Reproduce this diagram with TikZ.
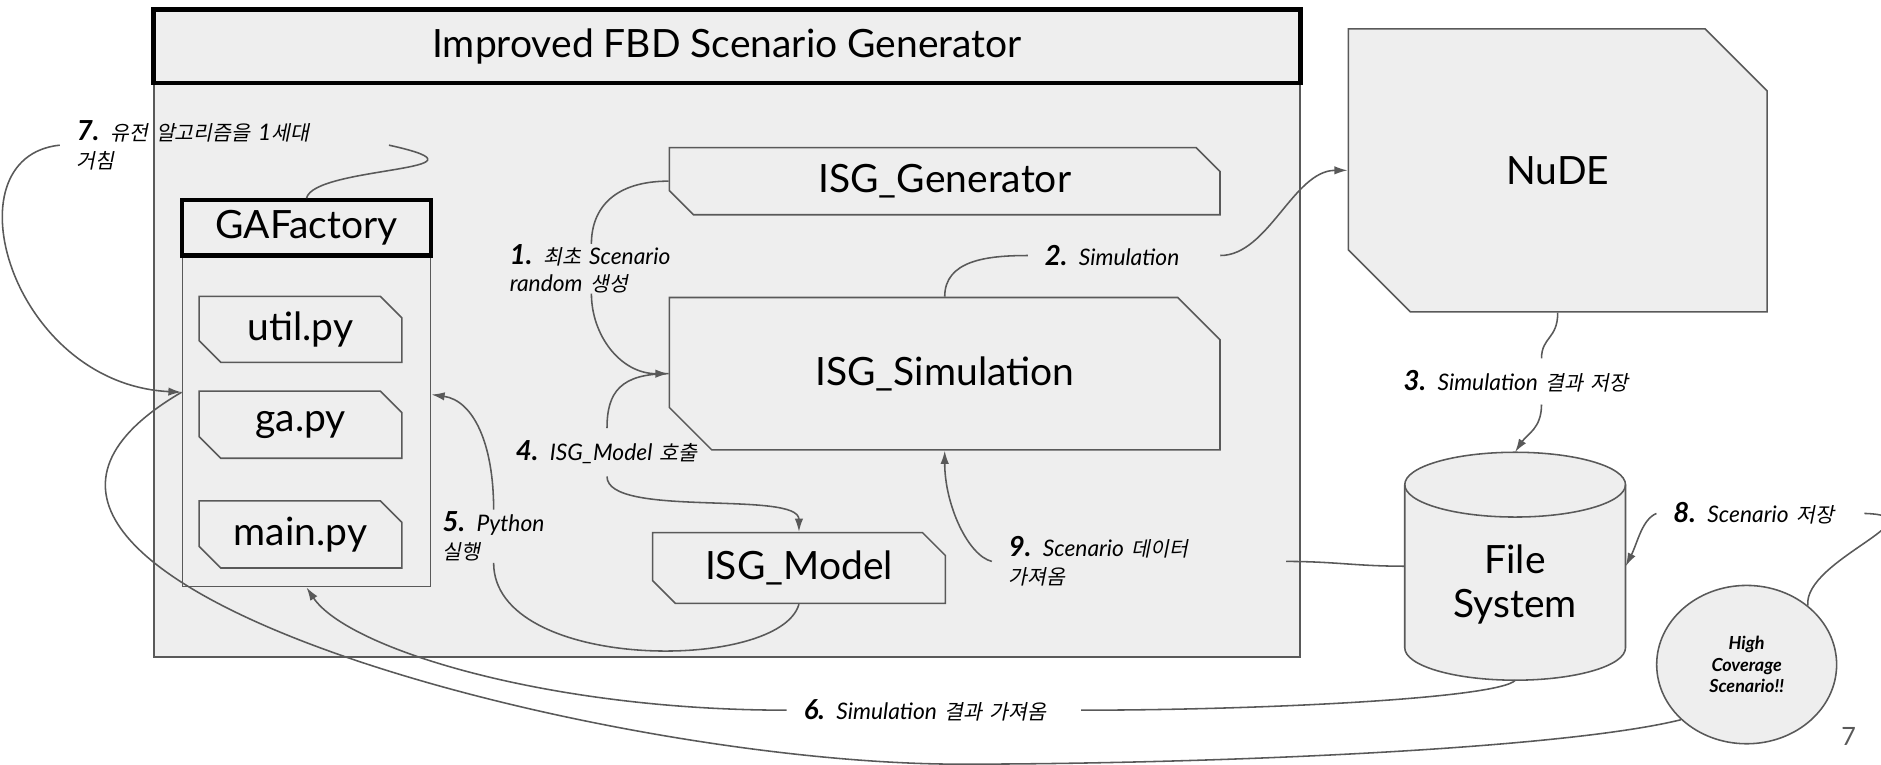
\documentclass[tikz,border=0pt]{standalone}
\usepackage{fontspec}
\usepackage{tikz}
\usetikzlibrary{arrows.meta, shapes.geometric, shapes.misc}
\setmainfont{Lato}
\newfontfamily\kr[Scale=0.9,FakeSlant=0.2]{Noto Sans CJK KR}
\definecolor{panelgray}{HTML}{EEEEEE}
\definecolor{edgegray}{HTML}{595959}
\newcommand{\stepno}[1]{{\fontsize{23}{23}\selectfont\bfseries\itshape #1.}}

\begin{document}
\begin{tikzpicture}[x=1pt, y=-1pt]
  \tikzstyle{blk}=[draw=edgegray, fill=panelgray, line width=1.3pt,
    inner sep=0pt, font=\fontsize{32.5}{37}\selectfont]
  \tikzstyle{snip}=[blk, chamfered rectangle,
    chamfered rectangle corners={north east, south west}]
  \tikzstyle{hdr}=[blk, draw=black, line width=3.5pt]
  \tikzstyle{lab}=[inner xsep=14pt, inner ysep=0pt, align=left,
    font=\fontsize{19}{23}\selectfont\itshape]
  \tikzstyle{wire}=[draw=edgegray, line width=1.3pt]
  \tikzstyle{arr}=[wire, -{Latex[length=11pt, width=7pt]}]

  \useasboundingbox (0,0) rectangle (1568,637);

  % generator panel
  \node[blk, line width=1.6pt, minimum width=956pt, minimum height=540pt] (panel) at (606,278) {};
  \node[hdr, minimum width=956pt, minimum height=61pt] (title) at (606,38.5) {Improved FBD Scenario Generator};

  \node[blk, minimum width=207pt, minimum height=276pt] (gabody) at (255.5,351) {};
  \node[hdr, minimum width=207pt, minimum height=46pt] (gahead) at (255.5,190) {GAFactory};
  \node[snip, chamfered rectangle xsep=9pt, chamfered rectangle ysep=9pt,
    minimum width=169pt, minimum height=55pt] (util) at (250.5,274.5) {util.py};
  \node[snip, chamfered rectangle xsep=9pt, chamfered rectangle ysep=9pt,
    minimum width=169pt, minimum height=56pt] (gapy) at (250.5,354) {ga.py};
  \node[snip, chamfered rectangle xsep=9pt, chamfered rectangle ysep=9pt,
    minimum width=169pt, minimum height=56pt] (mainpy) at (250.5,445.5) {main.py};

  \node[snip, chamfered rectangle xsep=10pt, chamfered rectangle ysep=10pt,
    minimum width=459pt, minimum height=56pt] (gen) at (787.5,151) {ISG\_Generator};
  \node[snip, chamfered rectangle xsep=21pt, chamfered rectangle ysep=21pt,
    minimum width=459pt, minimum height=127pt] (sim) at (787.5,311.5) {ISG\_Simulation};
  \node[snip, chamfered rectangle xsep=9pt, chamfered rectangle ysep=10pt,
    minimum width=244pt, minimum height=59pt] (model) at (666,473.5) {ISG\_Model};

  % outside
  \node[snip, chamfered rectangle xsep=40pt, chamfered rectangle ysep=40pt,
    minimum width=349pt, minimum height=236pt] (nude) at (1298.5,142) {NuDE};

  % file system drum
  \filldraw[draw=edgegray, fill=panelgray, line width=1.3pt]
    (1171,404) -- (1171,540) arc[start angle=180, end angle=360, x radius=92pt, y radius=27pt]
    -- (1355,404) arc[start angle=0, end angle=180, x radius=92pt, y radius=27pt] -- cycle;
  \draw[draw=edgegray, line width=1.3pt]
    (1171,404) arc[start angle=180, end angle=360, x radius=92pt, y radius=27pt];
  \node[inner sep=0pt, minimum width=184pt, minimum height=190pt,
    font=\fontsize{32.5}{37}\selectfont] (fs) at (1263,472)
    {\raisebox{-17pt}[\height][\depth]{\begin{tabular}{@{}c@{}}File\\System\end{tabular}}};

  \node[blk, ellipse, minimum width=150pt, minimum height=132pt, align=center,
    font=\fontsize{15}{18}\selectfont\bfseries\itshape] (hcs) at (1456,554) {High\\Coverage\\Scenario!!};
  \node[text=edgegray, font=\fontsize{21}{21}\selectfont] (pgno) at (1541,614) {7};

  % step labels
  \node[lab, inner xsep=0pt, text width=150pt, minimum height=40pt] (s1) at (500,224)
    {\stepno{1} {\kr 최초} Scenario\\random {\kr 생성}};
  \node[lab, text width=132pt, minimum height=30pt] (s2) at (937,213) {\stepno{2} Simulation};
  \node[lab, inner xsep=0pt, text width=220pt, minimum height=38pt] (s3) at (1280,318)
    {\stepno{3} Simulation {\kr 결과 저장}};
  \node[lab, inner xsep=0pt, text width=160pt, minimum height=40pt] (s4) at (510,377)
    {\stepno{4} ISG\_Model {\kr 호출}};
  \node[lab, inner xsep=0pt, text width=85pt, minimum height=44pt] (s5) at (411.5,447)
    {\stepno{5} Python\\{\kr 실행}};
  \node[lab, text width=217pt, minimum height=30pt] (s6) at (778.5,592)
    {\stepno{6} Simulation {\kr 결과 가져옴}};
  \node[lab, text width=246pt] (s7) at (187,121)
    {\stepno{7} {\kr 유전 알고리즘을} 1{\kr 세대}\\{\kr 거침}};
  \node[lab, text width=145pt] (s8) at (1467.5,428) {\stepno{8} Scenario {\kr 저장}};
  \node[lab, text width=217pt] (s9) at (949.5,468)
    {\stepno{9} Scenario {\kr 데이터}\\{\kr 가져옴}};

  % connectors
  \draw[wire] (gen.west) .. controls +(-45,0) and +(0,-30) .. ([xshift=-7pt]s1.north);
  \draw[arr] ([xshift=-7pt]s1.south) .. controls +(0,35) and +(-40,0) .. (sim.west);
  \draw[wire] (sim.north) .. controls +(0,-30) and +(-35,0) .. (s2.west);
  \draw[arr] (s2.east) .. controls +(40,0) and +(-45,0) .. (nude.west);
  \draw[wire] (nude.south) .. controls +(0,22) and +(0,-18) .. ([xshift=5pt]s3.north);
  \draw[arr] ([xshift=5pt]s3.south) .. controls +(0,20) and +(10,-15) .. (fs.north);
  \draw[wire] (sim.west) .. controls +(-40,0) and +(0,-30) .. ([xshift=-4pt]s4.north);
  \draw[arr] ([xshift=-4pt]s4.south) .. controls +(0,35) and +(0,-35) .. (model.north);
  \draw[wire] (model.south) .. controls +(-16,57) and +(0,91) .. (s5.south);
  \draw[arr] (s5.north) .. controls +(0,-55) and +(35,5) .. (gabody.12.5);
  \draw[wire] (fs.south) .. controls +(-15,15) and +(150,0) .. (s6.east);
  \draw[arr] (s6.west) .. controls +(-200,0) and +(34,51) .. (gabody.south);
  \draw[wire] (gahead.north) .. controls +(6,-27) and +(100,22) .. (s7.east);
  \draw[arr] (s7.west) .. controls +(-95,10) and +(-142,-7) .. (gabody.167.5);
  \draw[wire] (hcs.220) .. controls (1300,625) and (1000,637) .. (800,637)
    .. controls (500,637) and (-110,480) .. (gabody.167.5);
  \draw[wire] (hcs.44) .. controls +(-4,-38) and +(66,2) .. (s8.east);
  \draw[arr] (s8.west) .. controls +(-12,5) and +(10,-20) .. (fs.east);
  \draw[wire] (fs.west) .. controls +(-40,0) and +(40,0) .. (s9.east);
  \draw[arr] (s9.west) .. controls +(-20,-5) and +(0,45) .. (sim.south);
\end{tikzpicture}
\end{document}
